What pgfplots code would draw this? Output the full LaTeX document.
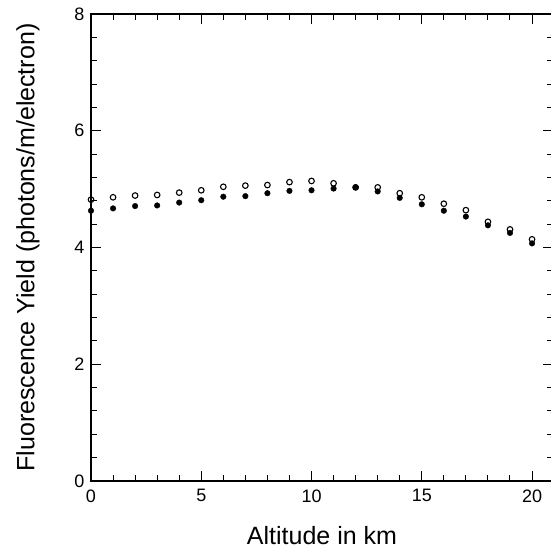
\documentclass[border=0pt]{standalone}
\usepackage{pgfplots}
\pgfplotsset{compat=1.18}
\usepackage{fontspec}
\setmainfont{Liberation Sans}
\begin{document}
\begin{tikzpicture}[x=1pt,y=1pt]
\path[use as bounding box] (0,0) rectangle (550,550);
\begin{axis}[
 at={(91pt,69pt)}, anchor=south west,
 scale only axis, width=462pt, height=467pt,
 xmin=0, xmax=20.95, ymin=0, ymax=8,
 xtick={0,5,...,20}, ytick={0,2,...,8},
 minor x tick num=4, minor y tick num=4,
 major tick length=10pt, minor tick length=6pt,
 tick style={black, line width=1pt},
 axis line style={line width=1.3pt},
 tick label style={font=\fontsize{18}{18}\selectfont},
 xticklabel style={yshift=-5pt},
 yticklabel style={xshift=-3pt},
 /pgf/number format/assume math mode=true,
 xlabel={Altitude in km},
 ylabel={Fluorescence Yield (photons/m/electron)},
 label style={font=\fontsize{25}{25}\selectfont},
 x label style={at={(axis description cs:0.5,0)}, anchor=center, yshift=-55pt},
 y label style={at={(axis description cs:0,0.5)}, anchor=center, rotate=0, yshift=63pt},
]
\addplot[only marks, mark=o, mark size=2.8pt, mark options={line width=1.1pt, black}] coordinates {
(0,4.82) (1,4.86) (2,4.89) (3,4.90) (4,4.94) (5,4.98) (6,5.04) (7,5.06) (8,5.07) (9,5.12) (10,5.14)
(11,5.10) (12,5.03) (13,5.03) (14,4.93) (15,4.86) (16,4.75) (17,4.64) (18,4.44) (19,4.31) (20,4.14)};
\addplot[only marks, mark=*, mark size=2.8pt, mark options={black, fill=black}] coordinates {
(0,4.63) (1,4.67) (2,4.71) (3,4.72) (4,4.77) (5,4.81) (6,4.87) (7,4.88) (8,4.93) (9,4.97) (10,4.98)
(11,5.01) (12,5.03) (13,4.96) (14,4.85) (15,4.74) (16,4.63) (17,4.53) (18,4.38) (19,4.25) (20,4.07)};
\end{axis}
\end{tikzpicture}
\end{document}
